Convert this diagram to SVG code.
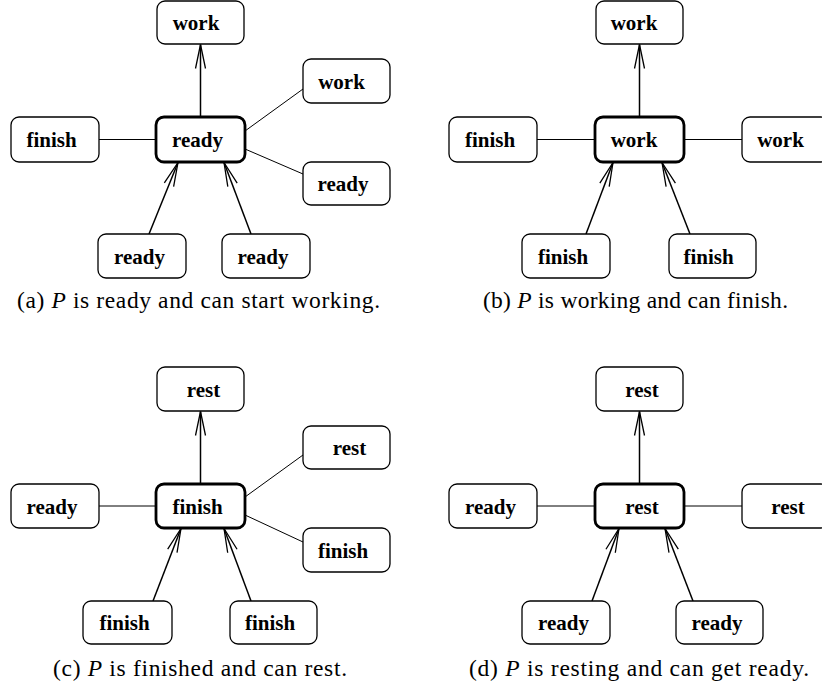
<svg xmlns="http://www.w3.org/2000/svg" width="822" height="686" viewBox="0 0 822 686">
<style>
.box{fill:#fff;stroke:#000;stroke-width:1.3}
.cur{fill:#fff;stroke:#000;stroke-width:2.8}
.lbl{font-family:"Liberation Serif","Times New Roman",serif;font-weight:bold;font-size:21px;text-anchor:middle;fill:#000}
.cap{font-family:"Liberation Serif","Times New Roman",serif;font-size:23.5px;text-anchor:middle;fill:#000}
.ln{stroke:#000;stroke-width:1;fill:none}
.ar{stroke:#000;stroke-width:1.5;fill:none;marker-end:url(#open)}
</style>
<defs>
<marker id="open" markerUnits="userSpaceOnUse" markerWidth="30" markerHeight="14" viewBox="-26 -7 28 14" refX="0" refY="0" orient="auto">
<path d="M-24,-5 L0,0 L-24,5" fill="none" stroke="#000" stroke-width="1.3"/>
</marker>
</defs>
<g id="connectors">
<!-- a -->
<line class="ar" x1="200.5" y1="117" x2="200.5" y2="44.5"/>
<line class="ln" x1="99" y1="139.5" x2="156" y2="139.5"/>
<line class="ln" x1="245" y1="131" x2="303" y2="89"/>
<line class="ln" x1="245" y1="149" x2="303" y2="174"/>
<line class="ar" x1="149" y1="234" x2="178" y2="162.5"/>
<line class="ar" x1="251" y1="234" x2="224" y2="162.5"/>
<!-- b -->
<line class="ar" x1="639.5" y1="117" x2="639.5" y2="44.5"/>
<line class="ln" x1="537" y1="139.5" x2="595" y2="139.5"/>
<line class="ln" x1="684" y1="139.5" x2="742" y2="139.5"/>
<line class="ar" x1="586" y1="234" x2="613" y2="162.5"/>
<line class="ar" x1="690" y1="234" x2="662" y2="162.5"/>
<!-- c -->
<line class="ar" x1="200.5" y1="484" x2="200.5" y2="411.5"/>
<line class="ln" x1="99" y1="506" x2="156" y2="506"/>
<line class="ln" x1="245" y1="497" x2="303" y2="455"/>
<line class="ln" x1="245" y1="515" x2="303" y2="542"/>
<line class="ar" x1="153" y1="601" x2="181" y2="528.5"/>
<line class="ar" x1="251" y1="601" x2="224" y2="528.5"/>
<!-- d -->
<line class="ar" x1="639.5" y1="484" x2="639.5" y2="411.5"/>
<line class="ln" x1="537" y1="506" x2="595" y2="506"/>
<line class="ln" x1="684" y1="506" x2="742" y2="506"/>
<line class="ar" x1="592" y1="601" x2="619" y2="528.5"/>
<line class="ar" x1="693" y1="601" x2="665" y2="528.5"/>
</g>
<!-- panel a -->
<g id="a-top"><rect class="box" x="157" y="1" width="87" height="43" rx="8"/><text class="lbl" x="196" y="30">work</text></g>
<g id="a-rtop"><rect class="box" x="303" y="59" width="87" height="44" rx="8"/><text class="lbl" x="341.5" y="88.5">work</text></g>
<g id="a-left"><rect class="box" x="11" y="117" width="88" height="45" rx="8"/><text class="lbl" x="51.5" y="147">finish</text></g>
<g id="a-center"><rect class="cur" x="156" y="117" width="89" height="45" rx="8"/><text class="lbl" x="197.5" y="147">ready</text></g>
<g id="a-rbot"><rect class="box" x="303" y="162" width="87" height="43" rx="8"/><text class="lbl" x="343" y="190.5">ready</text></g>
<g id="a-bl"><rect class="box" x="98" y="234" width="88" height="44" rx="8"/><text class="lbl" x="139.5" y="263.5">ready</text></g>
<g id="a-br"><rect class="box" x="222" y="234" width="88" height="44" rx="8"/><text class="lbl" x="263" y="263.5">ready</text></g>
<text class="cap" x="198.5" y="308" textLength="363" lengthAdjust="spacing">(a) <tspan font-style="italic">P</tspan> is ready and can start working.</text>
<!-- panel b -->
<g id="b-top"><rect class="box" x="596" y="1" width="87" height="43" rx="8"/><text class="lbl" x="634" y="30">work</text></g>
<g id="b-left"><rect class="box" x="449" y="117" width="88" height="45" rx="8"/><text class="lbl" x="490" y="147">finish</text></g>
<g id="b-center"><rect class="cur" x="595" y="117" width="89" height="45" rx="8"/><text class="lbl" x="634" y="147">work</text></g>
<g id="b-right"><rect class="box" x="742" y="117" width="87" height="45" rx="8"/><text class="lbl" x="780.5" y="147">work</text></g>
<g id="b-bl"><rect class="box" x="522" y="234" width="88" height="44" rx="8"/><text class="lbl" x="563" y="263.5">finish</text></g>
<g id="b-br"><rect class="box" x="669" y="234" width="87" height="44" rx="8"/><text class="lbl" x="708.5" y="263.5">finish</text></g>
<text class="cap" x="635.5" y="308" textLength="305" lengthAdjust="spacing">(b) <tspan font-style="italic">P</tspan> is working and can finish.</text>
<!-- panel c -->
<g id="c-top"><rect class="box" x="157" y="367" width="87" height="44" rx="8"/><text class="lbl" x="203.5" y="396.5">rest</text></g>
<g id="c-rtop"><rect class="box" x="303" y="426" width="87" height="43" rx="8"/><text class="lbl" x="349.5" y="455">rest</text></g>
<g id="c-left"><rect class="box" x="11" y="484" width="88" height="44" rx="8"/><text class="lbl" x="52" y="513.5">ready</text></g>
<g id="c-center"><rect class="cur" x="156" y="484" width="89" height="44" rx="8"/><text class="lbl" x="197.5" y="513.5">finish</text></g>
<g id="c-rbot"><rect class="box" x="303" y="528" width="87" height="44" rx="8"/><text class="lbl" x="343" y="557.5">finish</text></g>
<g id="c-bl"><rect class="box" x="83" y="601" width="89" height="43" rx="8"/><text class="lbl" x="124.5" y="630">finish</text></g>
<g id="c-br"><rect class="box" x="230" y="601" width="87" height="43" rx="8"/><text class="lbl" x="270" y="630">finish</text></g>
<text class="cap" x="200" y="676" textLength="294" lengthAdjust="spacing">(c) <tspan font-style="italic">P</tspan> is finished and can rest.</text>
<!-- panel d -->
<g id="d-top"><rect class="box" x="596" y="367" width="87" height="44" rx="8"/><text class="lbl" x="642" y="396.5">rest</text></g>
<g id="d-left"><rect class="box" x="449" y="484" width="88" height="44" rx="8"/><text class="lbl" x="490.5" y="513.5">ready</text></g>
<g id="d-center"><rect class="cur" x="595" y="484" width="89" height="44" rx="8"/><text class="lbl" x="642" y="513.5">rest</text></g>
<g id="d-right"><rect class="box" x="742" y="484" width="87" height="44" rx="8"/><text class="lbl" x="788" y="513.5">rest</text></g>
<g id="d-bl"><rect class="box" x="522" y="601" width="88" height="43" rx="8"/><text class="lbl" x="563.5" y="630">ready</text></g>
<g id="d-br"><rect class="box" x="676" y="601" width="87" height="43" rx="8"/><text class="lbl" x="717" y="630">ready</text></g>
<text class="cap" x="639" y="676" textLength="340" lengthAdjust="spacing">(d) <tspan font-style="italic">P</tspan> is resting and can get ready.</text>
</svg>
